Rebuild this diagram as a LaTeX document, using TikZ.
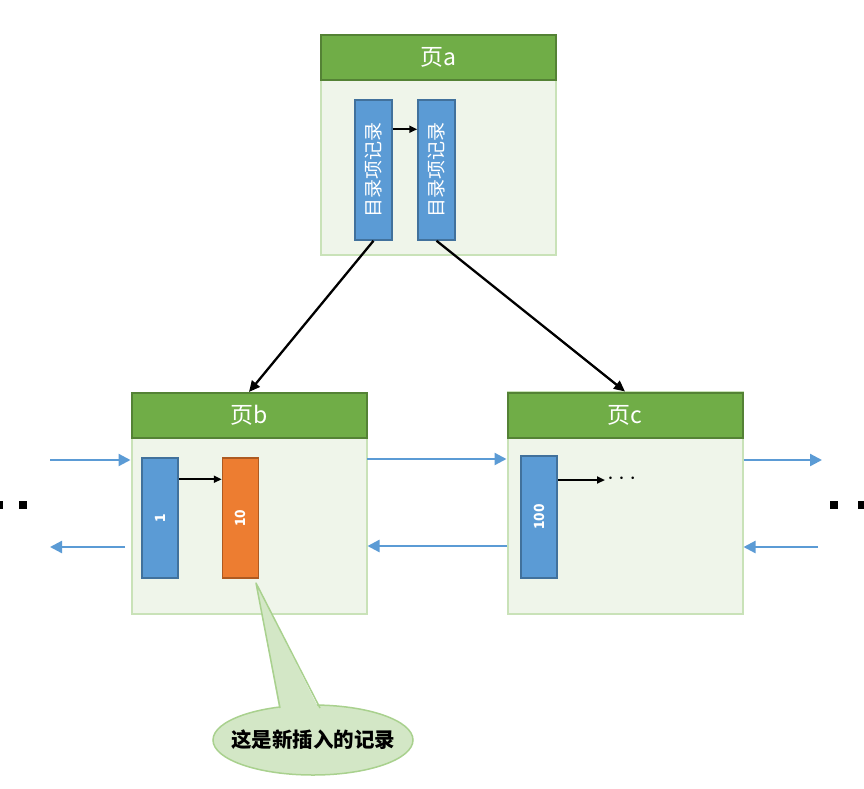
\documentclass[tikz,border=0pt]{standalone}
\usepackage{fontspec}
\newfontfamily\cjk{Noto Sans CJK SC}
\usetikzlibrary{arrows.meta,shapes.geometric}
\definecolor{hdrgreen}{HTML}{70AD47}
\definecolor{hdrborder}{HTML}{548235}
\definecolor{bodyfill}{HTML}{EFF5EA}
\definecolor{bodyborder}{HTML}{C9E2B8}
\definecolor{entblue}{HTML}{5B9BD5}
\definecolor{entblueb}{HTML}{41719C}
\definecolor{entorange}{HTML}{ED7D31}
\definecolor{entorangeb}{HTML}{AE5A21}
\definecolor{callfill}{HTML}{D3E7C6}
\definecolor{callborder}{HTML}{A9D18E}
\begin{document}
\begin{tikzpicture}[x=1pt,y=-1pt,
  pagebody/.style={draw=bodyborder,fill=bodyfill,line width=2pt,minimum width=235pt,minimum height=220pt,inner sep=0pt},
  pagehdr/.style={draw=hdrborder,fill=hdrgreen,line width=2pt,minimum width=235pt,minimum height=45pt,inner sep=0pt,text=white,font=\cjk\fontsize{23}{25}\selectfont},
  entry/.style={draw=entblueb,fill=entblue,line width=1.5pt,minimum width=37pt,inner sep=0pt,text=white},
  dirtext/.style={font=\cjk\fontsize{19}{21}\selectfont,rotate=90},
  numtext/.style={font=\cjk\bfseries\fontsize{14}{16}\selectfont,rotate=90},
  treearrow/.style={line width=2.3pt,-{Triangle[length=11pt,width=10pt]}},
  inarrow/.style={line width=2pt,-{Triangle[length=8pt,width=7pt]}},
  linkarrow/.style={draw=entblue,line width=2.3pt,-{Triangle[length=12pt,width=12pt]}},
  dotsq/.style={fill=black,minimum size=7.5pt,inner sep=0pt}
]
\useasboundingbox[fill=white] (0,0) rectangle (864,788);

% page a
\node[pagebody] (ab) at (438.5,145) {};
\node[pagehdr] (ah) at (438.5,57.5) {页a};
\node[entry,minimum height=140pt] (a1) at (373.5,170) {};
\node[dirtext,text=white] at (a1) {目录项记录};
\node[entry,minimum height=140pt] (a2) at (436.5,170) {};
\node[dirtext,text=white] at (a2) {目录项记录};
\draw[inarrow] ([yshift=-30pt]a1.north east) -- ([yshift=-30pt]a2.north west);

% page b
\node[pagebody,minimum height=221pt] (bb) at (249,503.5) {};
\node[pagehdr] (bh) at (249,415.5) {页b};
\node[entry,minimum width=36pt,minimum height=120pt] (b1) at (160,518) {};
\node[numtext,text=white] at (b1) {1};
\node[entry,draw=entorangeb,fill=entorange,minimum width=36pt,minimum height=120pt] (b2) at (240.5,518) {};
\node[numtext,text=white] at (b2) {10};
\draw[inarrow] ([yshift=-22pt]b1.north east) -- ([yshift=-22pt]b2.north west);

% page c
\node[pagebody,minimum height=222pt] (cb) at (625,503) {};
\node[pagehdr] (ch) at (625,415) {页c};
\node[entry,minimum width=36pt,minimum height=122pt] (c1) at (539,517) {};
\node[numtext,text=white] at (c1) {100};
\coordinate (cend) at (605,480);
\draw[inarrow] (c1.east |- cend) -- (cend);
\node[font=\fontsize{24}{24}\selectfont,inner sep=0pt,anchor=west] (cdots) at (607,479) {$\cdots$};

% tree arrows
\draw[treearrow] (a1.south) -- (bh.north);
\draw[treearrow] (a2.south) -- (ch.north);

% link arrows
\coordinate (L1) at (50,460);
\coordinate (L2) at (125,547);
\coordinate (L3) at (50,547);
\draw[linkarrow] (L1) -- (L1 -| bb.west);
\draw[linkarrow] (L2) -- (L3);
\coordinate (M1) at (367,459);
\coordinate (M2) at (507,546);
\draw[linkarrow] (M1) -- (M1 -| cb.west);
\draw[linkarrow] (M2) -- (M2 -| bb.east);
\coordinate (R1) at (822,460);
\coordinate (R2) at (818,547);
\draw[linkarrow] (R1 -| cb.east) -- (R1);
\draw[linkarrow] (R2) -- (R2 -| cb.east);

% dots
\node[dotsq] (dl1) at (-1,505) {};
\node[dotsq] (dl2) at (23,505) {};
\node[dotsq] (dr1) at (834,505) {};
\node[dotsq] (dr2) at (862,505) {};

% callout
\node[ellipse,draw=callborder,fill=callfill,line width=1.5pt,minimum width=200pt,minimum height=70pt,inner sep=0pt] (call) at (313,740) {};
\node[font=\cjk\bfseries\fontsize{20.5}{22}\selectfont,inner sep=0pt] (calltext) at (call) {这是新插入的记录};
\coordinate (tip) at (256,583);
\fill[callfill] (280,713) -- (tip) -- (321,713) -- cycle;
\draw[callborder,line width=1.5pt,line join=round] (280,708) -- (tip) -- (320,708);
\end{tikzpicture}
\end{document}
